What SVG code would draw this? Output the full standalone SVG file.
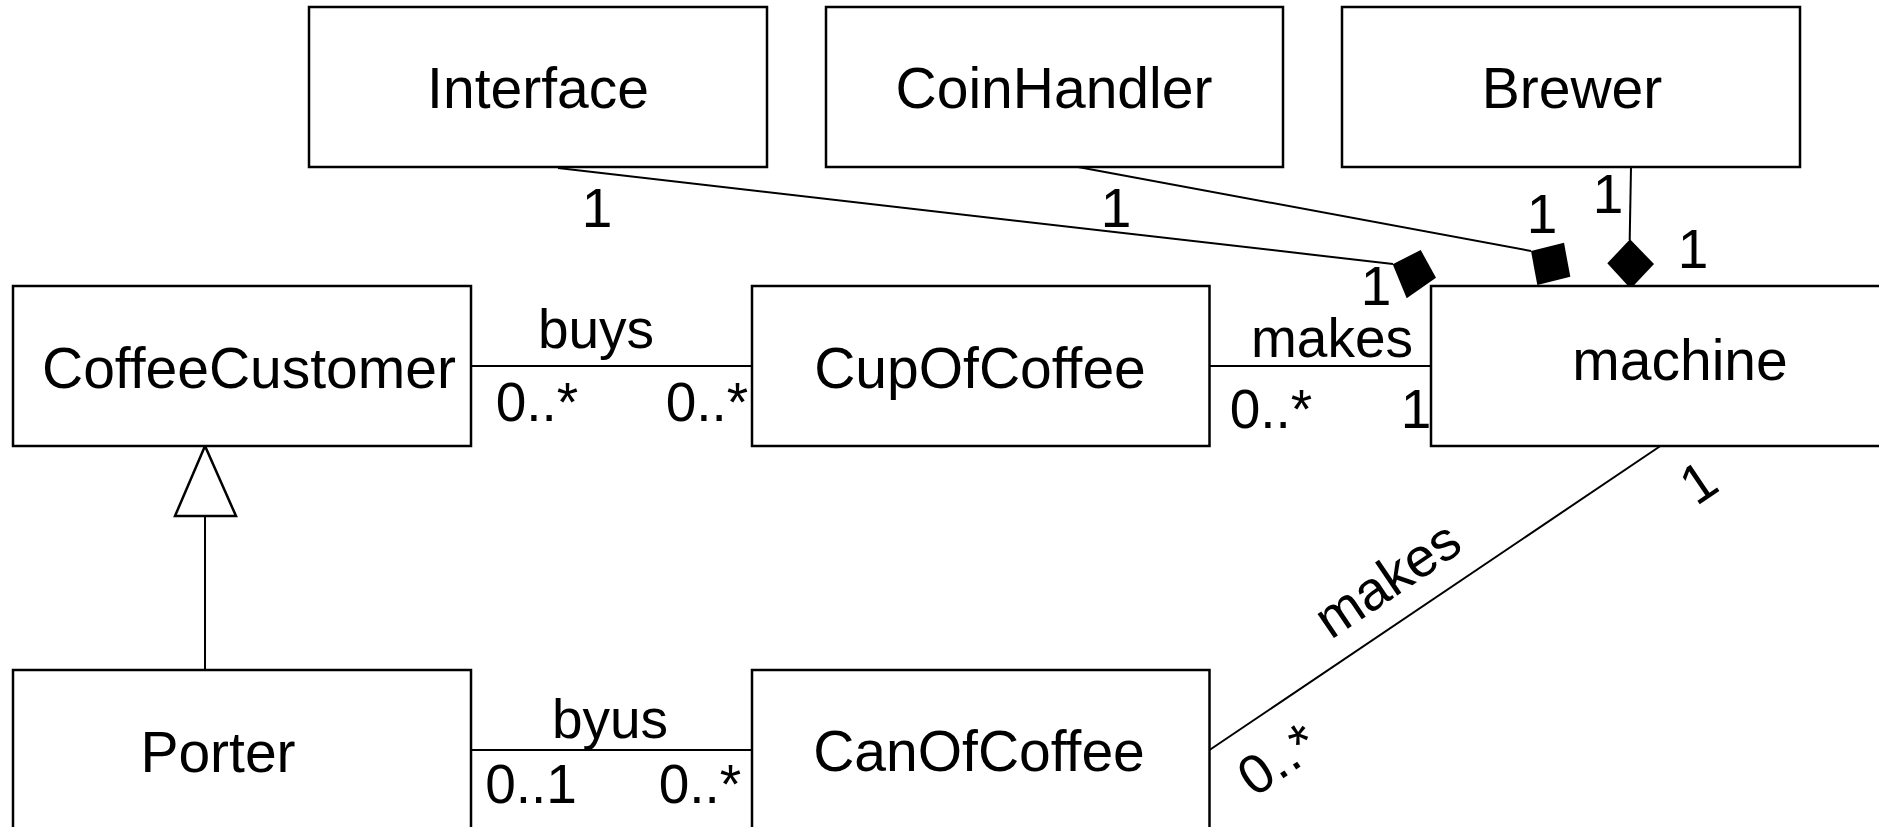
<svg xmlns="http://www.w3.org/2000/svg" width="1879" height="827" viewBox="0 0 1879 827">
  <style>
    .box { fill: #ffffff; stroke: #000000; stroke-width: 2.5; }
    .lbl { font-family: "Liberation Sans", Arial, sans-serif; font-size: 57px; fill: #000000; text-anchor: middle; }
    .mult { font-family: "Liberation Sans", Arial, sans-serif; font-size: 55px; fill: #000000; text-anchor: middle; }
    .edge { fill: none; stroke: #000000; stroke-width: 2; }
    .comp { fill: #000000; stroke: none; }
    .gen { fill: #ffffff; stroke: #000000; stroke-width: 2.5; }
  </style>
  <rect width="1879" height="827" fill="#ffffff"/>

  <!-- connectors -->
  <g id="connectors">
    <!-- compositions into machine -->
    <line class="edge" x1="558" y1="168" x2="1393" y2="264"/>
    <polygon class="comp" points="1392.7,264.3 1420.7,250 1436,277.7 1406.7,298.3"/>
    <line class="edge" x1="1078" y1="167" x2="1531" y2="251"/>
    <polygon class="comp" points="1531,251 1564,242.7 1570.3,276.7 1537.3,285"/>
    <line class="edge" x1="1631" y1="167" x2="1629.7" y2="240"/>
    <polygon class="comp" points="1630,239.3 1607.3,263.3 1630.7,288.7 1654,264"/>

    <!-- associations -->
    <line class="edge" x1="471" y1="366" x2="752" y2="366"/>
    <line class="edge" x1="1209.5" y1="366" x2="1431" y2="366"/>
    <line class="edge" x1="471" y1="750" x2="752" y2="750"/>
    <line class="edge" x1="1209.5" y1="750" x2="1660.4" y2="446"/>

    <!-- generalization Porter -> CoffeeCustomer -->
    <line class="edge" x1="205" y1="670" x2="205" y2="516"/>
    <polygon class="gen" points="205,446 175,516 236,516"/>

    <!-- multiplicities and association names -->
    <text class="mult" x="597" y="227">1</text>
    <text class="mult" x="1116" y="227">1</text>
    <text class="mult" x="1542" y="233">1</text>
    <text class="mult" x="1608" y="213">1</text>
    <text class="mult" x="1693" y="268">1</text>
    <text class="mult" x="1376" y="305">1</text>

    <text class="mult" x="596" y="348">buys</text>
    <text class="mult" x="537" y="421">0..*</text>
    <text class="mult" x="707" y="421">0..*</text>

    <text class="mult" x="1332" y="357">makes</text>
    <text class="mult" x="1271" y="428">0..*</text>
    <text class="mult" x="1416" y="428">1</text>

    <text class="mult" x="610" y="738">byus</text>
    <text class="mult" x="531" y="803">0..1</text>
    <text class="mult" x="700" y="803">0..*</text>

    <text class="mult" x="1398" y="595" transform="rotate(-34 1398 595)">makes</text>
    <text class="mult" x="1709" y="498" transform="rotate(-34 1709 498)">1</text>
    <text class="mult" x="1254" y="798" style="text-anchor:start" transform="rotate(-34 1254 798)">0..*</text>
  </g>

  <!-- classes -->
  <g id="Interface">
    <rect class="box" x="309" y="7" width="458" height="160"/>
    <text class="lbl" x="538" y="108">Interface</text>
  </g>
  <g id="CoinHandler">
    <rect class="box" x="826" y="7" width="457" height="160"/>
    <text class="lbl" x="1054" y="108">CoinHandler</text>
  </g>
  <g id="Brewer">
    <rect class="box" x="1342" y="7" width="458" height="160"/>
    <text class="lbl" x="1572" y="108">Brewer</text>
  </g>
  <g id="CoffeeCustomer">
    <rect class="box" x="13" y="286" width="458" height="160"/>
    <text class="lbl" x="249" y="388">CoffeeCustomer</text>
  </g>
  <g id="CupOfCoffee">
    <rect class="box" x="752" y="286" width="457.5" height="160"/>
    <text class="lbl" x="980" y="388">CupOfCoffee</text>
  </g>
  <g id="machine">
    <rect class="box" x="1431" y="286" width="500" height="160"/>
    <text class="lbl" x="1680" y="380">machine</text>
  </g>
  <g id="Porter">
    <rect class="box" x="13" y="670" width="458" height="200"/>
    <text class="lbl" x="218" y="772">Porter</text>
  </g>
  <g id="CanOfCoffee">
    <rect class="box" x="752" y="670" width="457.5" height="200"/>
    <text class="lbl" x="979" y="771">CanOfCoffee</text>
  </g>
</svg>
